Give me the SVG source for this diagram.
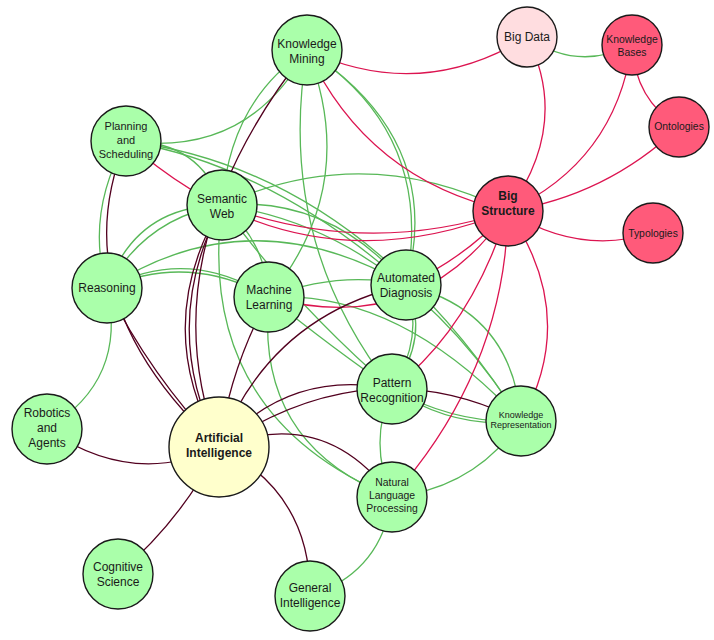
<svg xmlns="http://www.w3.org/2000/svg" width="714" height="640" viewBox="0 0 714 640">
<style>
.e{fill:none;stroke-width:1.3}
.g{stroke:#58b858}
.r{stroke:#dc1450}
.m{stroke:#52001f}
.n circle{stroke:#1a1a1a;stroke-width:1.4}
.gn circle{fill:#aaffaa}
.rn circle{fill:#ff5a7a}
text{font-family:"Liberation Sans",Arial,sans-serif;fill:#1a1a1a;text-anchor:middle}
.f12{font-size:12px}
.f11{font-size:11px}
.f10{font-size:10.4px}
.f9{font-size:9px}
.b{font-weight:bold}
</style>
<rect width="714" height="640" fill="#ffffff"/>
<g id="connectors">
<path class="e g" d="M527,37 Q577,72 632,45"/>
<path class="e g" d="M307,50 Q248,158 126,141"/>
<path class="e g" d="M307,50 Q230,100 222,205"/>
<path class="e g" d="M307,50 Q361,185 269,297"/>
<path class="e g" d="M307,50 Q275,240 392,389"/>
<path class="e g" d="M307,50 Q436,133 406,285"/>
<path class="e g" d="M307,50 Q446,140 406,285"/>
<path class="e g" d="M406,285 Q425,337 392,389"/>
<path class="e g" d="M406,285 Q431,337 392,389"/>
<path class="e g" d="M126,141 Q85,215 107,288"/>
<path class="e g" d="M126,141 Q200,140 222,205"/>
<path class="e g" d="M126,141 Q270,165 406,285"/>
<path class="e g" d="M222,205 Q330,195 406,285"/>
<path class="e g" d="M126,141 Q360,170 521,421"/>
<path class="e g" d="M222,205 Q400,230 521,421"/>
<path class="e g" d="M222,205 Q135,206 107,288"/>
<path class="e g" d="M222,205 Q145,218 107,288"/>
<path class="e g" d="M222,205 Q365,140 508,211"/>
<path class="e g" d="M222,205 Q265,240 269,297"/>
<path class="e g" d="M222,205 Q290,300 392,389"/>
<path class="e g" d="M222,205 Q195,415 392,497"/>
<path class="e g" d="M269,297 Q254,444 392,497"/>
<path class="e g" d="M269,297 Q335,350 392,389"/>
<path class="e g" d="M269,297 Q400,290 521,421"/>
<path class="e g" d="M269,297 Q340,270 406,285"/>
<path class="e g" d="M107,288 Q188,245 269,297"/>
<path class="e g" d="M107,288 Q188,252 269,297"/>
<path class="e g" d="M107,288 Q250,195 406,285"/>
<path class="e g" d="M107,288 Q128,380 47,429"/>
<path class="e g" d="M392,389 Q368,443 392,497"/>
<path class="e g" d="M392,389 Q455,430 521,421"/>
<path class="e g" d="M392,389 Q455,424 521,421"/>
<path class="e g" d="M392,497 Q474,489 521,421"/>
<path class="e g" d="M392,497 Q382,572 310,596"/>
<path class="e g" d="M406,285 Q513,311 521,421"/>
<path class="e r" d="M307,50 Q420,103 527,37"/>
<path class="e r" d="M527,37 Q571,124 508,211"/>
<path class="e r" d="M632,45 Q615,162 508,211"/>
<path class="e r" d="M632,45 Q635,100 679,127"/>
<path class="e r" d="M679,127 Q606,196 508,211"/>
<path class="e r" d="M508,211 Q578,256 653,233"/>
<path class="e r" d="M307,50 Q367,180 508,211"/>
<path class="e r" d="M126,141 Q300,295 508,211"/>
<path class="e r" d="M222,205 Q365,258 508,211"/>
<path class="e r" d="M269,297 Q419,339 508,211"/>
<path class="e r" d="M406,285 Q465,258 508,211"/>
<path class="e r" d="M392,389 Q470,330 508,211"/>
<path class="e r" d="M392,497 Q505,370 508,211"/>
<path class="e r" d="M521,421 Q580,316 508,211"/>
<path class="e m" d="M219,447 Q133,488 47,429"/>
<path class="e m" d="M219,447 Q180,522 118,574"/>
<path class="e m" d="M219,447 Q311,493 310,596"/>
<path class="e m" d="M219,447 Q325,405 392,497"/>
<path class="e m" d="M219,447 Q290,368 392,389"/>
<path class="e m" d="M219,447 Q370,345 521,421"/>
<path class="e m" d="M219,447 Q270,315 406,285"/>
<path class="e m" d="M219,447 Q230,368 269,297"/>
<path class="e m" d="M219,447 Q150,326 222,205"/>
<path class="e m" d="M219,447 Q158,326 222,205"/>
<path class="e m" d="M307,50 Q145,255 219,447"/>
<path class="e m" d="M107,288 Q150,375 219,447"/>
<path class="e m" d="M126,141 Q60,300 219,447"/>
</g>
<g id="knowledge-mining" class="n gn"><circle cx="307" cy="50" r="35"/><text class="f12" x="307" y="47.5">Knowledge</text><text class="f12" x="307" y="62.5">Mining</text></g>
<g id="big-data" class="n"><circle cx="527" cy="37" r="30" fill="#ffdde0"/><text class="f12" x="527" y="40.5">Big Data</text></g>
<g id="knowledge-bases" class="n rn"><circle cx="632" cy="45" r="30"/><text class="f10" x="632" y="43">Knowledge</text><text class="f10" x="632" y="56">Bases</text></g>
<g id="ontologies" class="n rn"><circle cx="679" cy="127" r="30"/><text class="f10" x="679" y="130">Ontologies</text></g>
<g id="big-structure" class="n rn"><circle cx="508" cy="211" r="35"/><text class="f12 b" x="508" y="199.5">Big</text><text class="f12 b" x="508" y="214.5">Structure</text></g>
<g id="typologies" class="n rn"><circle cx="653" cy="233" r="30"/><text class="f10" x="653" y="237">Typologies</text></g>
<g id="planning-and-scheduling" class="n gn"><circle cx="126" cy="141" r="35"/><text class="f11" x="126" y="130">Planning</text><text class="f11" x="126" y="144">and</text><text class="f11" x="126" y="158">Scheduling</text></g>
<g id="semantic-web" class="n gn"><circle cx="222" cy="205" r="35"/><text class="f12" x="222" y="202.5">Semantic</text><text class="f12" x="222" y="217.5">Web</text></g>
<g id="reasoning" class="n gn"><circle cx="107" cy="288" r="35"/><text class="f12" x="107" y="291.5">Reasoning</text></g>
<g id="machine-learning" class="n gn"><circle cx="269" cy="297" r="35"/><text class="f12" x="269" y="293.5">Machine</text><text class="f12" x="269" y="308.5">Learning</text></g>
<g id="automated-diagnosis" class="n gn"><circle cx="406" cy="285" r="35"/><text class="f12" x="406" y="281.5">Automated</text><text class="f12" x="406" y="296.5">Diagnosis</text></g>
<g id="pattern-recognition" class="n gn"><circle cx="392" cy="389" r="35"/><text class="f12" x="392" y="386.5">Pattern</text><text class="f12" x="392" y="401.5">Recognition</text></g>
<g id="knowledge-representation" class="n gn"><circle cx="521" cy="421" r="35"/><text class="f9" x="521" y="417.5">Knowledge</text><text class="f9" x="521" y="428">Representation</text></g>
<g id="natural-language-processing" class="n gn"><circle cx="392" cy="497" r="35"/><text class="f10" x="392" y="485.5">Natural</text><text class="f10" x="392" y="499">Language</text><text class="f10" x="392" y="512">Processing</text></g>
<g id="artificial-intelligence" class="n"><circle cx="219" cy="447" r="50" fill="#ffffcc"/><text class="f12 b" x="219" y="442">Artificial</text><text class="f12 b" x="219" y="457">Intelligence</text></g>
<g id="robotics-and-agents" class="n gn"><circle cx="47" cy="429" r="35"/><text class="f12" x="47" y="417">Robotics</text><text class="f12" x="47" y="432">and</text><text class="f12" x="47" y="447">Agents</text></g>
<g id="cognitive-science" class="n gn"><circle cx="118" cy="574" r="35"/><text class="f12" x="118" y="570.5">Cognitive</text><text class="f12" x="118" y="586">Science</text></g>
<g id="general-intelligence" class="n gn"><circle cx="310" cy="596" r="35"/><text class="f12" x="310" y="592">General</text><text class="f12" x="310" y="606.5">Intelligence</text></g>
</svg>
